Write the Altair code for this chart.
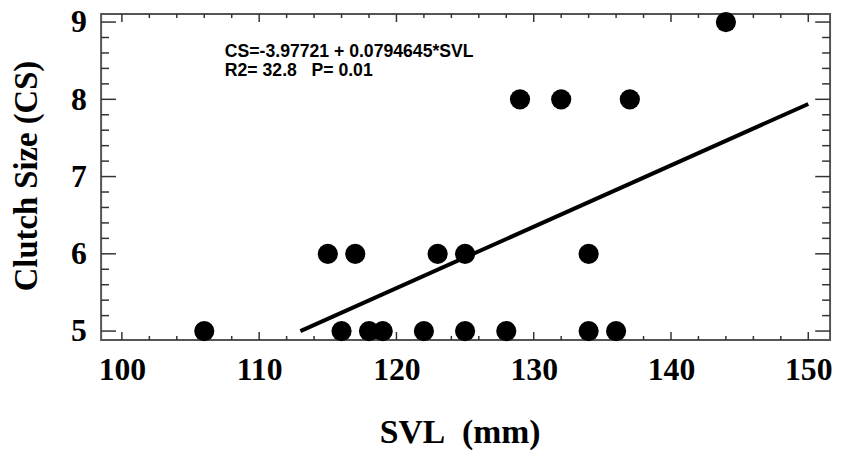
import altair as alt
import pandas as pd

# data
svl = [106, 115, 116, 117, 118, 119, 122, 123, 125, 125, 128, 129, 132, 134, 134, 136, 137, 144]
cs = [5, 6, 5, 6, 5, 5, 5, 6, 6, 5, 5, 8, 8, 6, 5, 5, 8, 9]

fit_svl = [113, 150]
fit_cs = [5.00, 7.94]

x_major = [100, 110, 120, 130, 140, 150]
x_minor = [102, 104, 106, 108, 112, 114, 116, 118, 122, 124, 126, 128,
           132, 134, 136, 138, 142, 144, 146, 148]
y_major = [5, 6, 7, 8, 9]
y_minor = [5.2, 5.4, 5.6, 5.8, 6.2, 6.4, 6.6, 6.8, 7.2, 7.4, 7.6, 7.8,
           8.2, 8.4, 8.6, 8.8]

note_text = ["CS=-3.97721 + 0.0794645*SVL", "R2= 32.8\u00a0\u00a0\u00a0P= 0.01"]
note_x = [107.5, 107.5]
note_y = [8.61, 8.36]

W, H = 736, 329
serif = "Liberation Serif"
sans = "Liberation Sans"
tick_color = "#333333"

xscale = alt.Scale(domain=[98.485, 151.587], nice=False, zero=False)
yscale = alt.Scale(domain=[4.885, 9.103], nice=False, zero=False)

xaxis = alt.Axis(
    values=x_major, format="d", ticks=False, domain=False, grid=False,
    labelFont=serif, labelFontWeight="bold", labelFontSize=32, labelColor="black",
    labelPadding=15, labelFlush=False, labelOverlap=False,
    title="SVL\u00a0\u00a0(mm)", titleFont=serif, titleFontWeight="bold",
    titleFontSize=34, titleColor="black", titleX=362, titleY=104,
    titleAlign="center", titleBaseline="alphabetic",
)
yaxis = alt.Axis(
    values=y_major, format="d", ticks=False, domain=False, grid=False,
    labelFont=serif, labelFontWeight="bold", labelFontSize=32, labelColor="black",
    labelPadding=15, labelFlush=False, labelOverlap=False,
    title="Clutch Size (CS)", titleFont=serif, titleFontWeight="bold",
    titleFontSize=33, titleColor="black", titleX=-65, titleY=163,
    titleAngle=270, titleAlign="center", titleBaseline="alphabetic",
)

X = alt.X("x:Q", scale=xscale, axis=xaxis)
Y = alt.Y("y:Q", scale=yscale, axis=yaxis)

pts = pd.DataFrame({"x": svl, "y": cs})
fit = pd.DataFrame({"x": fit_svl, "y": fit_cs})
xmaj = pd.DataFrame({"x": x_major})
xmin = pd.DataFrame({"x": x_minor})
ymaj = pd.DataFrame({"y": y_major})
ymin = pd.DataFrame({"y": y_minor})
notes = pd.DataFrame({"x": note_x, "y": note_y, "t": note_text})

points = alt.Chart(pts).mark_circle(size=415, color="black", opacity=1).encode(x=X, y=Y)
line = alt.Chart(fit).mark_line(color="black", strokeWidth=4).encode(x=X, y=Y)
text = alt.Chart(notes).mark_text(
    font=sans, fontWeight="bold", fontSize=17.8, color="black",
    align="left", baseline="middle",
).encode(x=X, y=Y, text="t:N")


def xticks(df, length):
    bottom = alt.Chart(df).mark_rule(color=tick_color, strokeWidth=1.5).encode(
        x=X, y=alt.value(H), y2=alt.value(H - length))
    top = alt.Chart(df).mark_rule(color=tick_color, strokeWidth=1.5).encode(
        x=X, y=alt.value(0), y2=alt.value(length))
    return [bottom, top]


def yticks(df, length):
    left = alt.Chart(df).mark_rule(color=tick_color, strokeWidth=1.5).encode(
        y=Y, x=alt.value(0), x2=alt.value(length))
    right = alt.Chart(df).mark_rule(color=tick_color, strokeWidth=1.5).encode(
        y=Y, x=alt.value(W), x2=alt.value(W - length))
    return [left, right]


layers = (xticks(xmaj, 8) + xticks(xmin, 4) + yticks(ymaj, 15) + yticks(ymin, 8)
          + [line, points, text])

chart = alt.layer(*layers).properties(
    width=W, height=H,
    autosize=alt.AutoSizeParams(type="none"),
    padding={"left": 94, "top": 4, "right": 6, "bottom": 114},
    background="white",
).configure_view(stroke="#555555", strokeWidth=2)

chart.save("out.html", embed_options={"renderer": "svg", "actions": False})
